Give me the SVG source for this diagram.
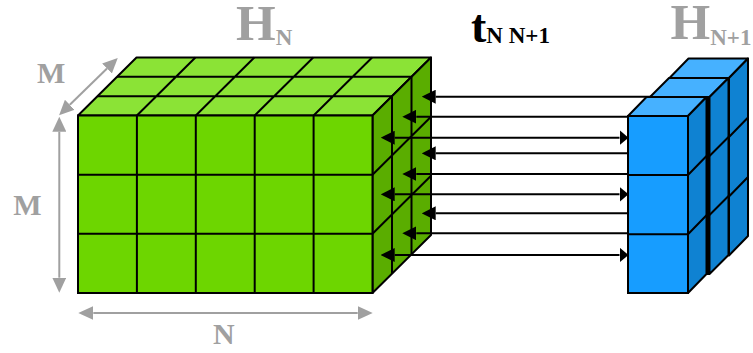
<svg xmlns="http://www.w3.org/2000/svg" width="753" height="353" viewBox="0 0 753 353">
<style>
.edge{stroke:#000;stroke-width:2;fill:none;stroke-linejoin:round}
.gf{fill:#6dd600;stroke:#000;stroke-width:2}
.gt{fill:#8be336;stroke:#000;stroke-width:2;stroke-linejoin:round}
.gs{fill:#5aad00;stroke:#000;stroke-width:2;stroke-linejoin:round}
.bf{fill:#179dff;stroke:#000;stroke-width:2}
.bt{fill:#46b1ff;stroke:#000;stroke-width:2;stroke-linejoin:round}
.bs{fill:#0f82d2;stroke:#000;stroke-width:2;stroke-linejoin:round}
.link{stroke:#000;stroke-width:2;fill:none;marker-start:url(#headL);marker-end:url(#headR)}
.dim{stroke:#a0a0a0;stroke-width:2;fill:none;marker-start:url(#gray);marker-end:url(#gray)}
.lbl{font-family:"Liberation Serif","Times New Roman",serif;font-weight:bold;fill:#a0a0a0}
.blk{font-family:"Liberation Serif","Times New Roman",serif;font-weight:bold;fill:#000}
</style>
<defs>
<marker id="headL" markerUnits="userSpaceOnUse" markerWidth="14" markerHeight="14" viewBox="0 0 14 14" refX="0" refY="7" orient="auto-start-reverse"><path d="M0,0 L14,7 L0,14 z" fill="#000"/></marker>
<marker id="headR" markerUnits="userSpaceOnUse" markerWidth="9" markerHeight="15" viewBox="0 0 9 15" refX="0" refY="7.5" orient="auto"><path d="M0,0 L9,7.5 L0,15 z" fill="#000"/></marker>
<marker id="gray" markerUnits="userSpaceOnUse" markerWidth="15" markerHeight="14" viewBox="0 0 15 14" refX="0" refY="7" orient="auto-start-reverse"><path d="M0,0 L15,7 L0,14 z" fill="#a0a0a0"/></marker>
</defs>

<g id="H_N">
<polygon class="gt" points="78,115.5 372.5,115.5 431,57.5 136.5,57.5"/>
<path class="edge" d="M97.5,96.2 H392 M117,76.8 H411.5 M136.9,115.5 L195.4,57.5 M195.8,115.5 L254.3,57.5 M254.7,115.5 L313.2,57.5 M313.6,115.5 L372.1,57.5"/>
<polygon class="gs" points="372.5,115.5 431,57.5 431,235 372.5,293"/>
<path class="edge" d="M392,96.2 V273.7 M411.5,76.8 V254.3 M372.5,174.7 L431,116.7 M372.5,233.8 L431,175.8"/>
<rect class="gf" x="78" y="115.5" width="294.5" height="177.5"/>
<path class="edge" d="M136.9,115.5 V293 M195.8,115.5 V293 M254.7,115.5 V293 M313.6,115.5 V293 M78,174.7 H372.5 M78,233.8 H372.5"/>
</g>

<g id="connectors">
<line class="link" x1="435.7" y1="96.7" x2="660.5" y2="96.7"/>
<line class="link" x1="435.7" y1="153.3" x2="660.5" y2="153.3"/>
<line class="link" x1="435.7" y1="213.3" x2="660.5" y2="213.3"/>
<line class="link" x1="416.3" y1="116.7" x2="641" y2="116.7"/>
<line class="link" x1="416.3" y1="174" x2="641" y2="174"/>
<line class="link" x1="416.3" y1="233.3" x2="641" y2="233.3"/>
<line class="link" x1="394.7" y1="137.7" x2="619.5" y2="137.7"/>
<line class="link" x1="394.7" y1="194.3" x2="619.5" y2="194.3"/>
<line class="link" x1="394.7" y1="255" x2="619.5" y2="255"/>
</g>

<g id="H_N1">
<g id="slab2">
<polygon class="bt" points="669.5,78 729,78 748,58.5 688.5,58.5"/>
<polygon class="bs" points="729,78 748,58.5 748,236 729,255.5"/>
<path class="edge" d="M729,137 L748,117.5 M729,196.5 L748,177"/>
</g>
<g id="slab1">
<polygon class="bt" points="650,97 709.5,97 728.5,78 669,78"/>
<polygon class="bs" points="709.5,97 728.5,78 728.5,255 709.5,274"/>
<path class="edge" d="M709.5,156 L728.5,137 M709.5,215 L728.5,196"/>
<rect x="650" y="97" width="59.5" height="177" fill="#179dff"/>
</g>
<g id="slab0">
<polygon class="bt" points="628,116 688,116 706.5,97 646.5,97"/>
<polygon class="bs" points="688,116 706.5,97 706.5,274 688,293"/>
<path class="edge" d="M688,175 L706.5,156 M688,234.3 L706.5,215.3"/>
<rect class="bf" x="628" y="116" width="60" height="177"/>
<path class="edge" d="M628,175 H688 M628,234.3 H688"/>
</g>
<line x1="708" y1="97" x2="708" y2="275" stroke="#000" stroke-width="4"/>
</g>

<g id="dimensions">
<line class="dim" x1="107" y1="68.5" x2="69.8" y2="104.8"/>
<line class="dim" x1="59.3" y1="131.7" x2="59.3" y2="277.7"/>
<line class="dim" x1="93.3" y1="313" x2="357.7" y2="313"/>
</g>

<g id="labels">
<text class="lbl" x="236" y="40" font-size="51">H<tspan font-size="23" dy="5">N</tspan></text>
<text class="lbl" x="670.5" y="38.5" font-size="51">H<tspan font-size="23" dy="6.5">N+1</tspan></text>
<text class="blk" x="471" y="41.7" font-size="46">t<tspan font-size="23" dy="1.6">N N+1</tspan></text>
<text class="lbl" x="51.2" y="83.3" font-size="30" text-anchor="middle">M</text>
<text class="lbl" x="27.5" y="215" font-size="30" text-anchor="middle">M</text>
<text class="lbl" x="223.8" y="344.3" font-size="30" text-anchor="middle">N</text>
</g>
</svg>
